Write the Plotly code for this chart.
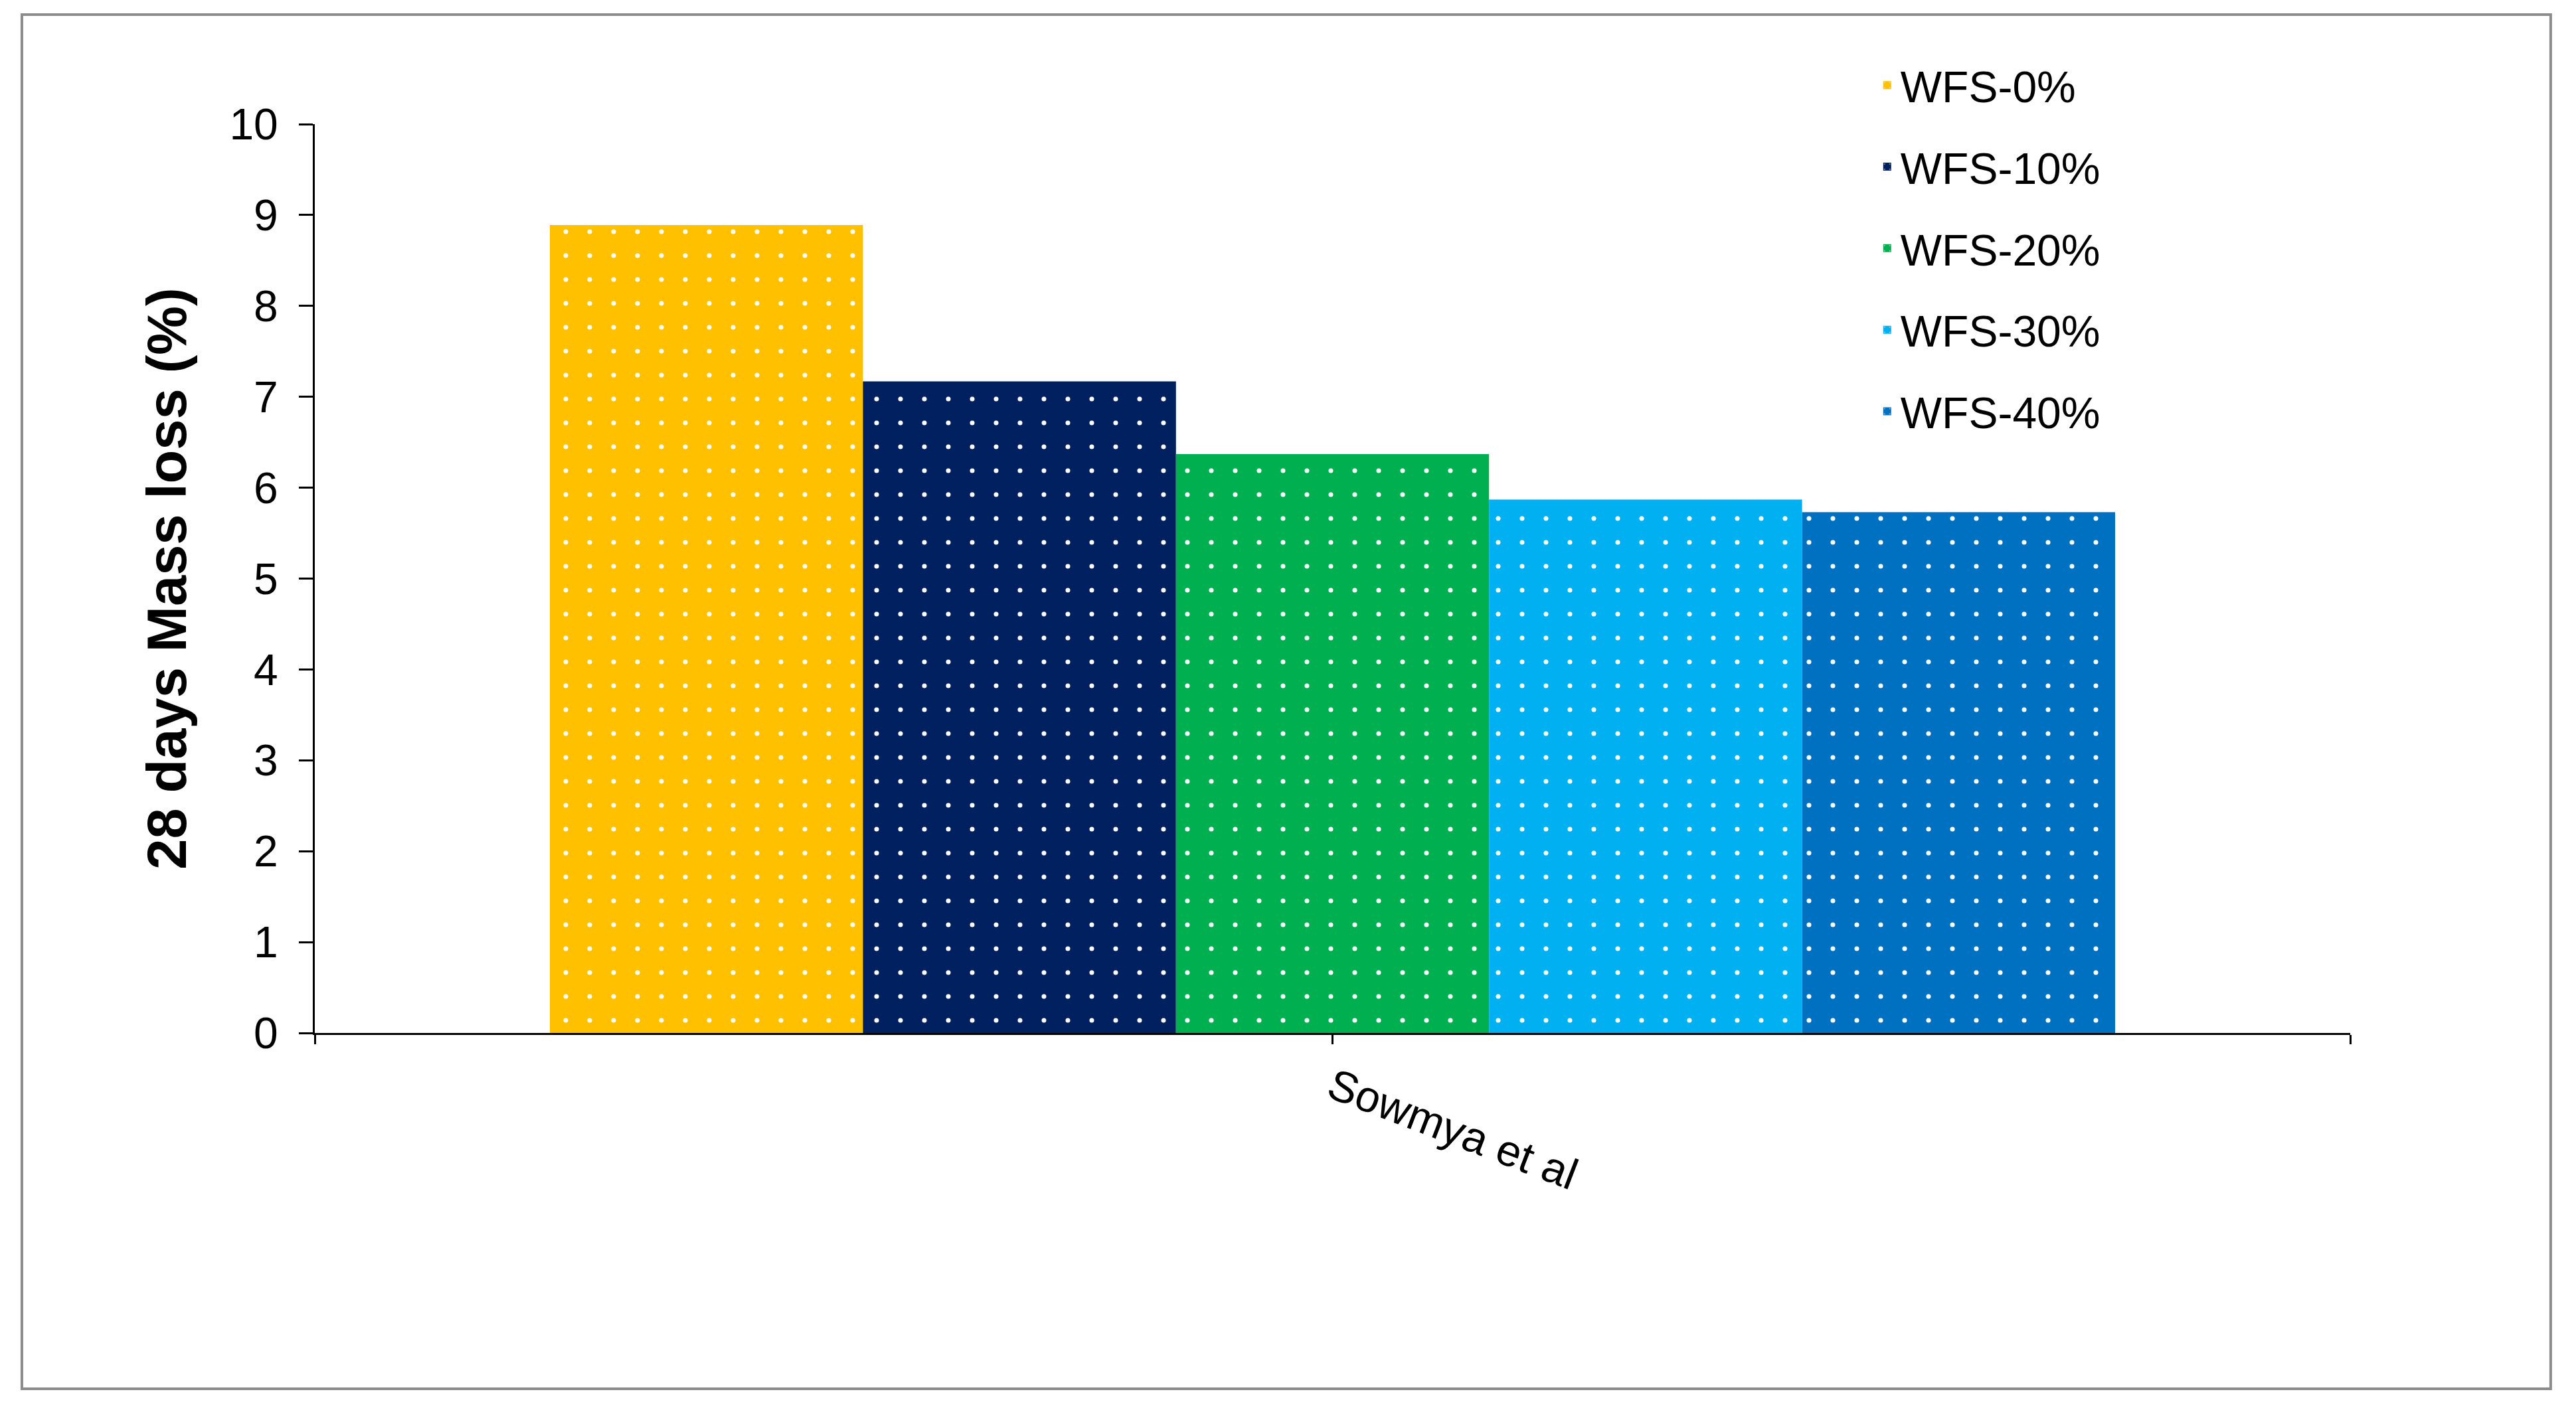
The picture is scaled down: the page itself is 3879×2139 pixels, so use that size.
import plotly.graph_objects as go

# ---- data ----
category_pos = [0]
category_labels = ["Sowmya et al"]
series_names = ["WFS-0%", "WFS-10%", "WFS-20%", "WFS-30%", "WFS-40%"]
series_values = [8.89, 7.17, 6.37, 5.87, 5.73]
series_colors = ["#FFC000", "#002060", "#00B050", "#00B0F0", "#0070C0"]
y_ticks = list(range(0, 11))

FONT = "Liberation Sans, Arial, sans-serif"

fig = go.Figure()
for name, val, col in zip(series_names, series_values, series_colors):
    fig.add_trace(go.Bar(
        x=category_pos, y=[val], name=name, legendgroup=name,
        marker=dict(color=col, line=dict(width=0),
                    pattern=dict(shape=".", fgcolor="#FFFFFF", bgcolor=col,
                                 size=36, solidity=0.03, fillmode="replace")),
    ))

# page body adds an 8px offset, so margins are shifted by -8 px
fig.update_layout(
    width=3879, height=2139,
    margin=dict(l=466, r=348, t=179, b=591, autoexpand=False),
    paper_bgcolor="white", plot_bgcolor="white",
    barmode="group", bargap=0.231, bargroupgap=0,
    font=dict(family=FONT, size=66, color="black"),
    showlegend=True,
    legend=dict(x=0.766, y=1.079, xanchor="left", yanchor="top",
                traceorder="grouped", tracegroupgap=34,
                font=dict(family=FONT, size=66, color="black"),
                bgcolor="rgba(0,0,0,0)"),
    xaxis=dict(range=[-0.5, 0.5], tickmode="array", automargin=False,
               tickvals=[-0.5, 0, 0.5], ticktext=["", category_labels[0], ""],
               tickangle=21, ticks="outside", ticklen=14, tickwidth=3,
               tickcolor="black", showline=True, linewidth=3, linecolor="black",
               showgrid=False, zeroline=False, ticklabelstandoff=1,
               tickfont=dict(family=FONT, size=66, color="black")),
    yaxis=dict(range=[0, 10], tickmode="array", tickvals=y_ticks, automargin=False,
               ticktext=[str(t) for t in y_ticks],
               ticks="outside", ticklen=21, tickwidth=3, tickcolor="black",
               showline=True, linewidth=3, linecolor="black",
               showgrid=False, zeroline=False, ticklabelstandoff=18,
               tickfont=dict(family=FONT, size=66, color="black"),
               title=dict(text="<b>28 days Mass loss (%)</b>", standoff=38,
                          font=dict(family=FONT, size=83, color="black"))),
    yaxis2=dict(range=[0, 10], overlaying="y", anchor="x", side="left",
                dtick=0.2, tick0=0, ticks="inside", ticklen=16, tickwidth=3,
                tickcolor="black", showticklabels=False, showline=False,
                showgrid=False, zeroline=False, automargin=False),
    shapes=[dict(type="rect", xref="paper", yref="paper",
                 x0=-0.1439, x1=1.0985, y0=-0.3915, y1=1.1205,
                 line=dict(color="#8C8C8C", width=4), fillcolor="rgba(0,0,0,0)",
                 layer="below")],
)

fig.write_html("out.html")
